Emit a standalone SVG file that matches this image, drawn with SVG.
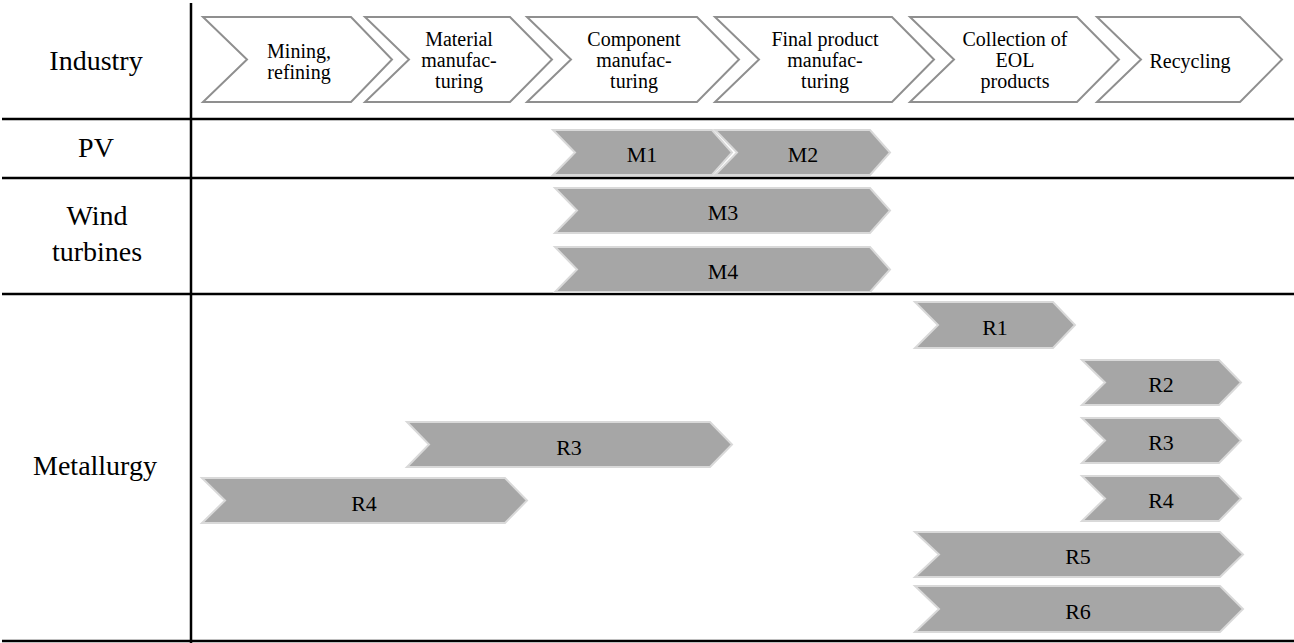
<svg xmlns="http://www.w3.org/2000/svg" width="1294" height="643" viewBox="0 0 1294 643">
<style>
  .stage { fill: #ffffff; stroke: #8f8f8f; stroke-width: 2; stroke-linejoin: miter; }
  .bar { fill: #a6a6a6; stroke: #d9d9d9; stroke-width: 2; }
  .grid { stroke: #000000; stroke-width: 2.5; fill: none; }
  text { font-family: "Liberation Serif", Tinos, "Noto Serif", "Nimbus Roman", "Nimbus Roman No9 L", FreeSerif, Times, "DejaVu Serif", serif; fill: #000000; text-anchor: middle; }
  .st { font-size: 20px; }
  .row { font-size: 28px; }
  .lbl { font-size: 22px; }
</style>
<rect width="1294" height="643" fill="#ffffff"/>

<g id="grid">
  <line class="grid" x1="191" y1="3" x2="191" y2="643"/>
  <line class="grid" x1="2" y1="119" x2="1294" y2="119"/>
  <line class="grid" x1="2" y1="178" x2="1294" y2="178"/>
  <line class="grid" x1="2" y1="294" x2="1294" y2="294"/>
  <line class="grid" x1="2" y1="641" x2="1294" y2="641"/>
</g>

<g id="row-labels">
  <text class="row" x="96" y="70">Industry</text>
  <text class="row" x="96" y="157">PV</text>
  <text class="row" x="97" y="225">Wind</text>
  <text class="row" x="97" y="261">turbines</text>
  <text class="row" x="95" y="475">Metallurgy</text>
</g>

<g id="stage-mining">
  <polygon class="stage" points="203,17 351,17 392,59.5 351,102 203,102 247,59.5"/>
  <text class="st" x="299" y="58">Mining,</text>
  <text class="st" x="299" y="79">refining</text>
</g>
<g id="stage-material">
  <polygon class="stage" points="365,17 510,17 552,59.5 510,102 365,102 409,59.5"/>
  <text class="st" x="459" y="46">Material</text>
  <text class="st" x="459" y="67">manufac-</text>
  <text class="st" x="459" y="88">turing</text>
</g>
<g id="stage-component">
  <polygon class="stage" points="527,17 697,17 739,59.5 697,102 527,102 571,59.5"/>
  <text class="st" x="634" y="46">Component</text>
  <text class="st" x="634" y="67">manufac-</text>
  <text class="st" x="634" y="88">turing</text>
</g>
<g id="stage-final">
  <polygon class="stage" points="715,17 892,17 934,59.5 892,102 715,102 759,59.5"/>
  <text class="st" x="825" y="46">Final product</text>
  <text class="st" x="825" y="67">manufac-</text>
  <text class="st" x="825" y="88">turing</text>
</g>
<g id="stage-collection">
  <polygon class="stage" points="910,17 1077,17 1119,59.5 1077,102 910,102 954,59.5"/>
  <text class="st" x="1015" y="46">Collection of</text>
  <text class="st" x="1015" y="67">EOL</text>
  <text class="st" x="1015" y="88">products</text>
</g>
<g id="stage-recycling">
  <polygon class="stage" points="1097,17 1240,17 1282,59.5 1240,102 1097,102 1141,59.5"/>
  <text class="st" x="1190" y="68">Recycling</text>
</g>

<g id="M1">
  <polygon class="bar" points="553,130 712,130 732,152.5 712,175 553,175 575,152.5"/>
  <text class="lbl" x="642" y="162">M1</text>
</g>
<g id="M2">
  <polygon class="bar" points="715,130 870,130 890,152.5 870,175 715,175 737,152.5"/>
  <text class="lbl" x="803" y="162">M2</text>
</g>
<g id="M3">
  <polygon class="bar" points="555,188 870,188 890,210.5 870,233 555,233 577,210.5"/>
  <text class="lbl" x="723" y="220">M3</text>
</g>
<g id="M4">
  <polygon class="bar" points="555,247 870,247 890,269.5 870,292 555,292 577,269.5"/>
  <text class="lbl" x="723" y="279">M4</text>
</g>

<g id="R1">
  <polygon class="bar" points="915,302 1053,302 1075,325 1053,348 915,348 938,325"/>
  <text class="lbl" x="995" y="335">R1</text>
</g>
<g id="R2">
  <polygon class="bar" points="1082,360 1219,360 1241,382.5 1219,405 1082,405 1105,382.5"/>
  <text class="lbl" x="1161" y="392">R2</text>
</g>
<g id="R3-right">
  <polygon class="bar" points="1082,418 1219,418 1241,440.5 1219,463 1082,463 1105,440.5"/>
  <text class="lbl" x="1161" y="450">R3</text>
</g>
<g id="R4-right">
  <polygon class="bar" points="1082,476 1219,476 1241,498.5 1219,521 1082,521 1105,498.5"/>
  <text class="lbl" x="1161" y="508">R4</text>
</g>
<g id="R5">
  <polygon class="bar" points="915,532 1220,532 1243,554.5 1220,577 915,577 939,554.5"/>
  <text class="lbl" x="1078" y="564">R5</text>
</g>
<g id="R6">
  <polygon class="bar" points="915,586 1220,586 1243,609 1220,632 915,632 939,609"/>
  <text class="lbl" x="1078" y="619">R6</text>
</g>
<g id="R3-left">
  <polygon class="bar" points="407,422 710,422 732,444.5 710,467 407,467 429,444.5"/>
  <text class="lbl" x="569" y="455">R3</text>
</g>
<g id="R4-left">
  <polygon class="bar" points="202,478 505,478 527,500.5 505,523 202,523 225,500.5"/>
  <text class="lbl" x="364" y="511">R4</text>
</g>

<g id="connectors"></g>
</svg>
